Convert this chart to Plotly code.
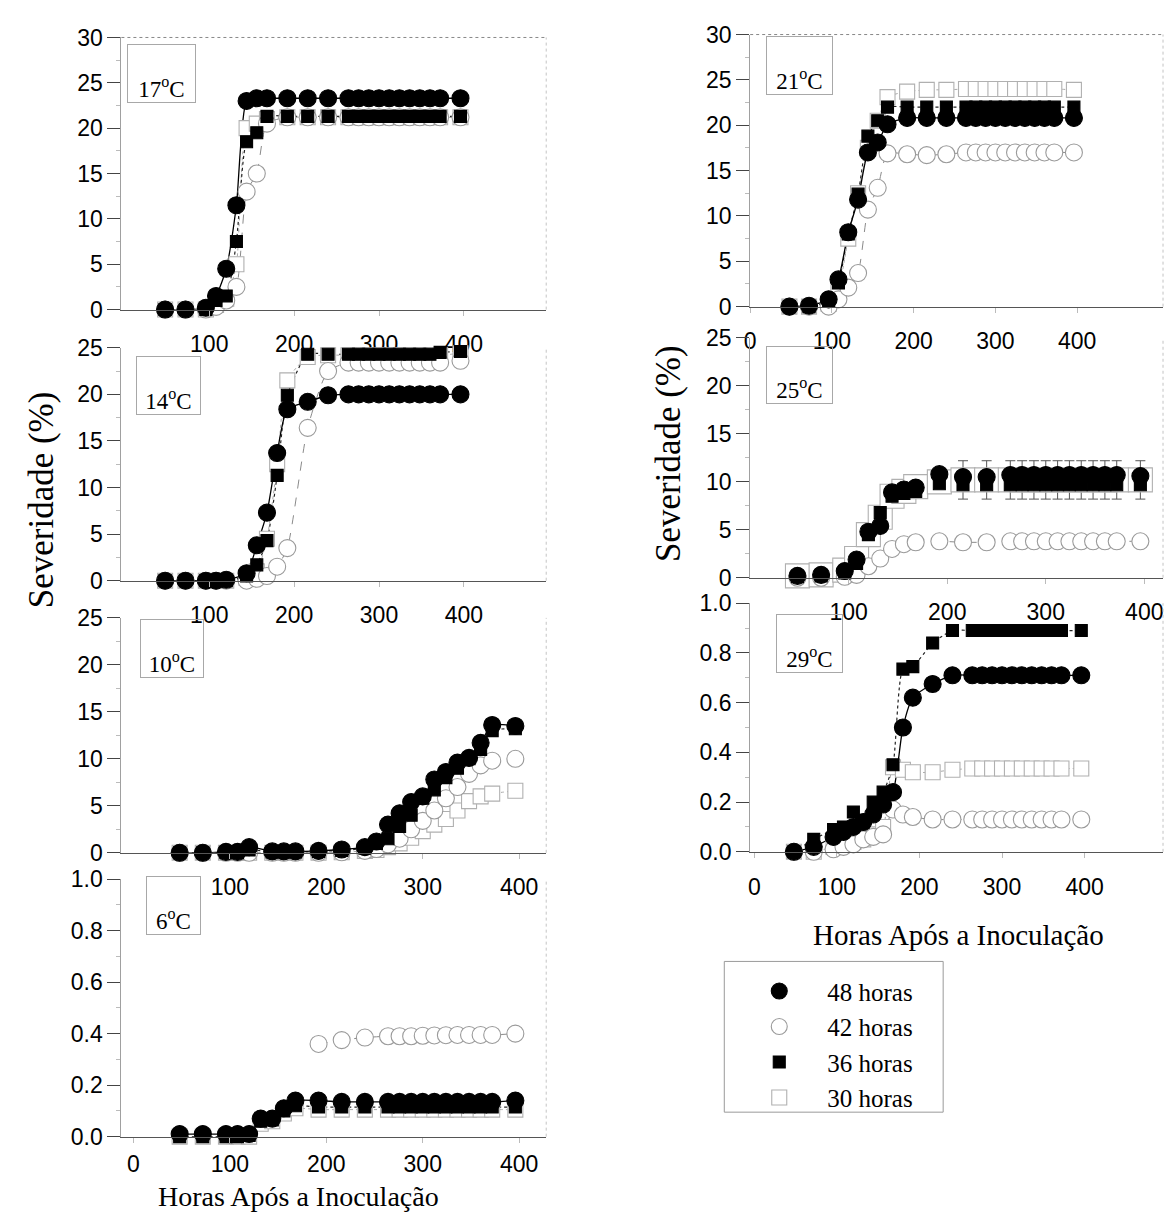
import plotly.graph_objects as go

W, H = 1169, 1225

# ---- sampling times (hours after inoculation) ----
HOURS = [48, 72, 96, 108, 120, 132, 144, 156, 168, 192, 216, 240,
         264, 276, 288, 300, 312, 324, 336, 348, 360, 372, 396]
HOURS_14 = [48, 72, 96, 108, 120, 144, 156, 168, 180, 192, 216, 240,
            264, 276, 288, 300, 312, 324, 336, 348, 360, 372, 396]
HOURS_10 = [48, 72, 96, 108, 120, 144, 156, 168, 192, 216, 240, 252,
            264, 276, 288, 300, 312, 324, 336, 348, 360, 372, 396]
HOURS_29 = [48, 72, 96, 108, 120, 132, 144, 156, 168, 180, 192, 216, 240,
            264, 276, 288, 300, 312, 324, 336, 348, 360, 372, 396]

SERIES = ["48 horas", "42 horas", "36 horas", "30 horas"]

# ---- severity (%) per temperature and wetness duration ----
sev17_48 = [0, 0, 0.2, 1.5, 4.5, 11.5, 23.0, 23.3, 23.3, 23.3, 23.3, 23.3,
            23.3, 23.3, 23.3, 23.3, 23.3, 23.3, 23.3, 23.3, 23.3, 23.3, 23.3]
sev17_42 = [0, 0, 0, 0.3, 1.0, 2.5, 13.0, 15.0, 20.5, 21.2, 21.2, 21.2,
            21.2, 21.2, 21.2, 21.2, 21.2, 21.2, 21.2, 21.2, 21.2, 21.2, 21.2]
sev17_36 = [0, 0, 0, 1.0, 1.5, 7.5, 18.5, 19.5, 21.3, 21.3, 21.3, 21.3,
            21.3, 21.3, 21.3, 21.3, 21.3, 21.3, 21.3, 21.3, 21.3, 21.3, 21.3]
sev17_30 = [0, 0, 0, 0.5, 1.2, 5.0, 20.0, 20.5, 21.0, 21.2, 21.2, 21.2,
            21.2, 21.2, 21.2, 21.2, 21.2, 21.2, 21.2, 21.2, 21.2, 21.2, 21.2]

sev14_48 = [0, 0, 0, 0, 0.1, 0.8, 3.8, 7.3, 13.7, 18.4, 19.2, 19.9,
            20.0, 20.0, 20.0, 20.0, 20.0, 20.0, 20.0, 20.0, 20.0, 20.0, 20.0]
sev14_42 = [0, 0, 0, 0, 0, 0, 0.2, 0.5, 1.5, 3.5, 16.4, 22.5,
            23.4, 23.4, 23.4, 23.4, 23.4, 23.4, 23.4, 23.4, 23.4, 23.4, 23.6]
sev14_36 = [0, 0, 0, 0, 0, 0.5, 1.7, 4.3, 11.3, 19.9, 24.3, 24.3,
            24.3, 24.3, 24.3, 24.3, 24.3, 24.3, 24.3, 24.3, 24.3, 24.5, 24.6]
sev14_30 = [0, 0, 0, 0, 0, 0.3, 1.0, 4.5, 12.5, 21.5, 24.0, 24.2,
            24.2, 24.2, 24.2, 24.2, 24.2, 24.2, 24.2, 24.2, 24.2, 24.2, 24.4]

sev10_48 = [0, 0, 0.1, 0.1, 0.6, 0.15, 0.15, 0.15, 0.2, 0.35, 0.6, 1.2,
            3.0, 4.2, 5.4, 6.0, 7.8, 8.6, 9.6, 10.1, 11.7, 13.6, 13.5]
sev10_42 = [0, 0, 0, 0, 0, 0, 0, 0, 0, 0.05, 0.2, 0.4,
            0.9, 1.5, 2.5, 3.4, 4.5, 5.8, 7.0, 8.4, 9.3, 9.8, 10.0]
sev10_36 = [0, 0, 0, 0, 0.3, 0.1, 0.1, 0.1, 0.15, 0.25, 0.5, 1.0,
            1.5, 2.8, 4.0, 5.8, 6.7, 8.0, 9.0, 10.0, 11.0, 13.0, 13.2]
sev10_30 = [0, 0, 0, 0, 0, 0, 0, 0, 0, 0.05, 0.2, 0.3,
            0.6, 1.0, 1.6, 2.3, 3.0, 3.6, 4.5, 5.5, 6.0, 6.3, 6.6]

sev6_48 = [0.01, 0.01, 0.01, 0.01, 0.01, 0.07, 0.07, 0.11, 0.14, 0.14, 0.135, 0.135,
           0.135, 0.135, 0.135, 0.135, 0.135, 0.135, 0.135, 0.135, 0.135, 0.135, 0.14]
sev6_42 = [None, None, None, None, None, None, None, None, None, 0.36, 0.375, 0.385,
           0.39, 0.39, 0.39, 0.392, 0.393, 0.394, 0.395, 0.395, 0.395, 0.395, 0.40]
sev6_36 = [0, 0, 0, 0, 0.005, 0.06, 0.065, 0.10, 0.12, 0.115, 0.115, 0.115,
           0.115, 0.115, 0.115, 0.115, 0.115, 0.115, 0.115, 0.115, 0.115, 0.115, 0.115]
sev6_30 = [0, 0, 0, 0, 0, 0.05, 0.06, 0.09, 0.11, 0.105, 0.105, 0.105,
           0.105, 0.105, 0.105, 0.105, 0.105, 0.105, 0.105, 0.105, 0.105, 0.105, 0.105]

sev21_48 = [0, 0.1, 0.8, 3.0, 8.2, 11.8, 17.0, 18.1, 20.1, 20.8, 20.8, 20.8,
            20.8, 20.8, 20.8, 20.8, 20.8, 20.8, 20.8, 20.8, 20.8, 20.8, 20.8]
sev21_42 = [0, 0, 0, 0.8, 2.1, 3.7, 10.7, 13.1, 16.9, 16.8, 16.7, 16.8,
            17.0, 17.0, 17.0, 17.0, 17.0, 17.0, 17.0, 17.0, 17.0, 17.0, 17.0]
sev21_36 = [0, 0, 0.6, 2.6, 8.0, 12.4, 18.8, 20.5, 22.0, 22.0, 22.0, 22.0,
            22.0, 22.0, 22.0, 22.0, 22.0, 22.0, 22.0, 22.0, 22.0, 22.0, 22.0]
sev21_30 = [0, 0, 0.3, 2.0, 7.5, 12.5, 17.5, 20.5, 23.1, 23.7, 23.9, 23.9,
            24.0, 24.0, 24.0, 24.0, 24.0, 24.0, 24.0, 24.0, 24.0, 24.0, 23.9]
err21_30 = [0, 0, 0, 0, 0, 0, 0, 0, 0, 0, 0, 0,
            0.6, 0.6, 0.6, 0.6, 0.6, 0.6, 0.6, 0.6, 0.6, 0.6, 0]

sev25_48 = [0.2, 0.3, 0.7, 1.9, 4.8, 5.4, 8.9, 9.2, 9.4, 10.8, 10.5, 10.5,
            10.7, 10.7, 10.7, 10.7, 10.7, 10.7, 10.7, 10.7, 10.7, 10.7, 10.6]
sev25_42 = [0, 0, 0.1, 0.3, 1.2, 2.0, 3.0, 3.5, 3.7, 3.8, 3.7, 3.7,
            3.8, 3.8, 3.8, 3.8, 3.8, 3.8, 3.8, 3.8, 3.8, 3.8, 3.8]
sev25_36 = [0.1, 0.2, 0.5, 1.5, 4.5, 6.8, 8.5, 8.8, 9.0, 9.8, 9.7, 9.7,
            9.7, 9.7, 9.7, 9.7, 9.7, 9.7, 9.7, 9.7, 9.7, 9.7, 9.7]
sev25_30 = [0.2, 0.3, 0.8, 2.0, 4.5, 6.3, 8.5, 9.0, 9.5, 10.0, 10.2, 10.2,
            10.2, 10.2, 10.2, 10.2, 10.2, 10.2, 10.2, 10.2, 10.2, 10.2, 10.2]
err25_30 = [0, 0, 0, 0, 0, 0, 0, 0, 0, 0, 2.0, 2.0,
            2.0, 2.0, 2.0, 2.0, 2.0, 2.0, 2.0, 2.0, 2.0, 2.0, 2.0]

sev29_48 = [0.0, 0.02, 0.06, 0.08, 0.10, 0.12, 0.15, 0.19, 0.24, 0.50, 0.62, 0.675, 0.71,
            0.71, 0.71, 0.71, 0.71, 0.71, 0.71, 0.71, 0.71, 0.71, 0.71, 0.71]
sev29_42 = [0, 0, 0.01, 0.02, 0.03, 0.05, 0.06, 0.07, 0.17, 0.15, 0.14, 0.13, 0.13,
            0.13, 0.13, 0.13, 0.13, 0.13, 0.13, 0.13, 0.13, 0.13, 0.13, 0.13]
sev29_36 = [0.0, 0.05, 0.09, 0.10, 0.16, 0.12, 0.20, 0.24, 0.35, 0.735, 0.745, 0.84, 0.89,
            0.89, 0.89, 0.89, 0.89, 0.89, 0.89, 0.89, 0.89, 0.89, 0.89, 0.89]
sev29_30 = [0, 0, 0.02, 0.03, 0.04, 0.05, 0.07, 0.10, 0.34, 0.33, 0.32, 0.32, 0.33,
            0.335, 0.335, 0.335, 0.335, 0.335, 0.335, 0.335, 0.335, 0.335, 0.335, 0.335]
err29_30 = [0, 0, 0, 0, 0, 0, 0, 0, 0, 0, 0, 0, 0,
            0.02, 0.02, 0.02, 0.02, 0.02, 0.02, 0.02, 0.02, 0.02, 0.02, 0]

# ---- panel table (pixel placement in the page) ----
panels = [
    dict(temp="17", t=HOURS, s=[sev17_48, sev17_42, sev17_36, sev17_30], err=None,
         xd=(116, 543), yd=(25, 303), xr=(-3.5, 497), yr=(0, 30), dt=5,
         xt=[100, 200, 300, 400], box=(123, 190, 33, 90), top=True, sq=15, so=9),
    dict(temp="14", t=HOURS_14, s=[sev14_48, sev14_42, sev14_36, sev14_30], err=None,
         xd=(116, 543), yd=(342, 580), xr=(-3.5, 497), yr=(0, 25), dt=5,
         xt=[100, 200, 300, 400], box=(132, 195, 352, 409), top=False, sq=15, so=9),
    dict(temp="10", t=HOURS_10, s=[sev10_48, sev10_42, sev10_36, sev10_30], err=None,
         xd=(116, 543), yd=(618, 858), xr=(-12.4, 428), yr=(0, 25), dt=5,
         xt=[100, 200, 300, 400], box=(136, 198, 621, 678), top=False, sq=15, so=9),
    dict(temp="6", t=HOURS, s=[sev6_48, sev6_42, sev6_36, sev6_30], err=None,
         xd=(116, 543), yd=(885, 1148), xr=(-12.4, 428), yr=(0, 1), dt=0.2,
         xt=[0, 100, 200, 300, 400], box=(142, 195, 883, 940), top=False, sq=15, so=2),
    dict(temp="21", t=HOURS, s=[sev21_48, sev21_42, sev21_36, sev21_30], err=err21_30,
         xd=(748, 1163), yd=(22, 300), xr=(0, 505), yr=(0, 30), dt=5,
         xt=[0, 100, 200, 300, 400], box=(765, 830, 25, 82), top=True, sq=15, so=9),
    dict(temp="25", t=HOURS, s=[sev25_48, sev25_42, sev25_36, sev25_30], err=err25_30,
         xd=(748, 1163), yd=(332, 577), xr=(0, 419), yr=(0, 25), dt=5,
         xt=[100, 200, 300, 400], box=(765, 830, 342, 398), top=False, sq=24, so=9),
    dict(temp="29", t=HOURS_29, s=[sev29_48, sev29_42, sev29_36, sev29_30], err=err29_30,
         xd=(748, 1163), yd=(603, 857), xr=(-5, 495), yr=(0, 1), dt=0.2,
         xt=[0, 100, 200, 300, 400], box=(775, 840, 616, 673), top=False, sq=15, so=9),
]

SANS = "Liberation Sans, Arial, sans-serif"
SERIF = "Liberation Serif, Times New Roman, serif"


def fx(p):
    return p / W


def fy(p):
    return 1 - p / H


# marker / line look of each wetness duration (draw order: 30, 42, 36, 48)
looks = {
    "48 horas": dict(symbol="circle", size=17, fill="black", edge="black",
                     lcolor="black", dash="solid", lw=1.3, rank=1),
    "42 horas": dict(symbol="circle", size=17, fill="white", edge="#9a9a9a",
                     lcolor="#8a8a8a", dash="dash", lw=1.0, rank=2),
    "36 horas": dict(symbol="square", size=12, fill="black", edge="black",
                     lcolor="#222222", dash="dot", lw=1.2, rank=3),
    "30 horas": dict(symbol="square", size=15, fill="white", edge="#b0b0b0",
                     lcolor="#aaaaaa", dash="dot", lw=1.0, rank=4),
}
draw_order = [3, 1, 2, 0]

fig = go.Figure()
shapes = []
annotations = []

for k, p in enumerate(panels):
    n = "" if k == 0 else str(k + 1)
    xa, ya = "x" + n, "y" + n
    # fitted progress curves under the observations
    for idx in draw_order:
        name = SERIES[idx]
        lk = looks[name]
        fig.add_trace(go.Scatter(
            x=p["t"], y=p["s"][idx], xaxis=xa, yaxis=ya, mode="lines",
            name=name, showlegend=False, hoverinfo="skip", connectgaps=False,
            line=dict(color=lk["lcolor"], width=lk["lw"], dash=lk["dash"],
                      shape="spline", smoothing=0.6),
            cliponaxis=False,
        ))
    # observations
    for idx in draw_order:
        name = SERIES[idx]
        lk = looks[name]
        size = p["sq"] if name == "30 horas" else lk["size"]
        err = None
        if name == "30 horas" and p["err"] is not None:
            err = dict(type="data", array=p["err"], visible=True,
                       color="#555555", thickness=1, width=5)
        fig.add_trace(go.Scatter(
            x=p["t"], y=p["s"][idx], xaxis=xa, yaxis=ya,
            mode="markers", name=name, legendgroup=name,
            legendrank=lk["rank"], showlegend=(k == 0),
            marker=dict(symbol=lk["symbol"], size=size, color=lk["fill"],
                        line=dict(color=lk["edge"], width=1.1)),
            error_y=err, cliponaxis=False,
        ))

    fmt = ".1f" if p["dt"] < 1 else "d"
    fig.update_layout(**{
        "xaxis" + n: dict(
            domain=[fx(p["xd"][0]), fx(p["xd"][1])], anchor=ya, range=list(p["xr"]),
            tickvals=p["xt"], ticks="outside", ticklen=5, tickcolor="#bbbbbb",
            tickfont=dict(family=SANS, size=23, color="black"),
            ticklabelstandoff=p["so"], showline=True, linecolor="#555555", linewidth=1.2,
            showgrid=False, zeroline=False),
        "yaxis" + n: dict(
            domain=[fy(p["yd"][1]), fy(p["yd"][0])], anchor=xa, range=list(p["yr"]),
            dtick=p["dt"], tick0=0, tickformat=fmt, ticks="outside", ticklen=13,
            tickwidth=1.3, tickcolor="#444444",
            tickfont=dict(family=SANS, size=23, color="black"),
            minor=dict(ticks="outside", ticklen=4, tickcolor="#bbbbbb", dtick=p["dt"] / 2),
            showline=True, linecolor="#a0a0a0", linewidth=1,
            showgrid=False, zeroline=False),
    })

    # right frame and (for the top row) upper frame
    shapes.append(dict(type="line", xref="paper", yref="paper",
                       x0=fx(p["xd"][1]), x1=fx(p["xd"][1]),
                       y0=fy(p["yd"][1]), y1=fy(p["yd"][0]),
                       line=dict(color="#c4c4c4", width=1, dash="dot")))
    if p["top"]:
        shapes.append(dict(type="line", xref="paper", yref="paper",
                           x0=fx(p["xd"][0]), x1=fx(p["xd"][1]),
                           y0=fy(p["yd"][0]), y1=fy(p["yd"][0]),
                           line=dict(color="#888888", width=1, dash="dot")))

    # temperature tag
    l, r, t, b = p["box"]
    annotations.append(dict(
        xref="paper", yref="paper", x=fx((l + r) / 2), y=fy((t + b) / 2),
        xanchor="center", yanchor="middle", showarrow=False,
        text=p["temp"] + "<sup>o</sup>C", width=r - l, height=b - t,
        valign="bottom", align="center", borderpad=0,
        bordercolor="#a8a8a8", borderwidth=1,
        font=dict(family=SERIF, size=23, color="black")))

# axis titles
for xc, yc in [(36, 497), (666, 450)]:
    annotations.append(dict(xref="paper", yref="paper", x=fx(xc), y=fy(yc),
                            text="Severidade (%)", textangle=-90, showarrow=False,
                            xanchor="center", yanchor="middle",
                            font=dict(family=SERIF, size=35, color="black")))
annotations.append(dict(xref="paper", yref="paper", x=fx(294), y=fy(1226),
                        text="Horas Após a Inoculação", showarrow=False,
                        xanchor="center", yanchor="bottom", borderpad=0,
                        font=dict(family=SERIF, size=28, color="black")))
annotations.append(dict(xref="paper", yref="paper", x=fx(957), y=fy(942),
                        text="Horas Após a Inoculação", showarrow=False,
                        xanchor="center", yanchor="middle",
                        font=dict(family=SERIF, size=29, color="black")))

# legend frame
shapes.append(dict(type="rect", xref="paper", yref="paper",
                   x0=fx(722), x1=fx(942), y0=fy(1123), y1=fy(969),
                   line=dict(color="#9a9a9a", width=1)))

fig.update_layout(
    width=W, height=H, margin=dict(l=0, r=0, t=0, b=0),
    paper_bgcolor="white", plot_bgcolor="white",
    shapes=shapes, annotations=annotations,
    showlegend=True,
    legend=dict(x=fx(729), y=fy(976), xanchor="left", yanchor="top",
                bgcolor="rgba(0,0,0,0)", borderwidth=0, itemwidth=86,
                tracegroupgap=6, traceorder="normal",
                font=dict(family=SERIF, size=25, color="black")),
)

fig.write_html("out.html")
